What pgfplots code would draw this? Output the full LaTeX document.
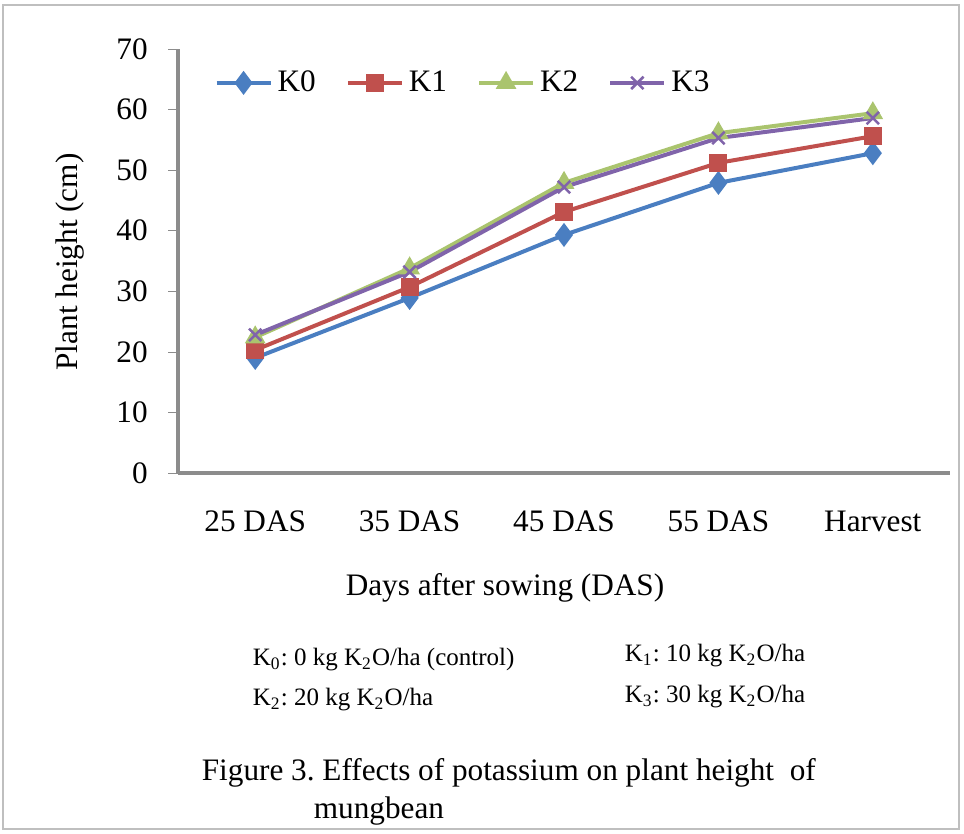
\documentclass[border=0pt]{standalone}
\usepackage{pgfplots}
\pgfplotsset{compat=1.18}
\usepackage{fontspec}
\setmainfont{Liberation Serif}
\frenchspacing
\definecolor{cK0}{RGB}{74,126,193}
\definecolor{cK1}{RGB}{192,80,77}
\definecolor{cK2}{RGB}{170,196,110}
\definecolor{cK3}{RGB}{128,100,170}
\definecolor{axgray}{RGB}{140,140,140}
\begin{document}
\begin{tikzpicture}[x=0.4pt,y=0.4pt]
\path[use as bounding box] (0,0) rectangle (964,833);
\draw[gray!50, line width=0.8pt] (3,4) rectangle (959,828);
\begin{axis}[
  at={(71.2pt,144pt)}, anchor=south west,
  scale only axis, width=308.8pt, height=169.6pt,
  xmin=-0.5, xmax=4.5, ymin=0, ymax=70,
  ytick={0,10,...,70},
  xtick={0,1,2,3,4},
  xticklabels={25 DAS,35 DAS,45 DAS,55 DAS,Harvest},
  extra x ticks={-0.5,0.5,1.5,2.5,3.5,4.5},
  extra x tick labels={},
  extra x tick style={major tick length=6pt, tick style={axgray}},
  axis x line*=bottom, axis y line*=left,
  axis line style={axgray,-}, 
  x tick style={draw=none},
  y tick style={axgray}, tick align=outside, major tick length=4pt,
  /pgf/number format/assume math mode=true,
  ticklabel style={font=\fontsize{12.5}{14}\selectfont},
  xticklabel style={yshift=-7pt},
  yticklabel style={xshift=-4pt},
  legend style={at={(0.035,0.92)}, anchor=west, draw=none, fill=none,
    font=\fontsize{12.5}{14}\selectfont,
    /tikz/every even column/.append style={column sep=10pt}},
  legend columns=4,
  legend image code/.code={\draw[mark repeat=2,mark phase=2] plot coordinates {(0cm,0cm) (0.38cm,0cm) (0.76cm,0cm)};},
  legend image post style={sharp plot},
  line width=1.6pt,
  clip=false,
]
\addplot[cK0, mark=diamond*, mark size=3.5pt, mark options={solid}] coordinates {(0,19.0) (1,28.9) (2,39.3) (3,47.9) (4,52.8)};
\addplot[cK1, mark=square*, mark size=2.8pt] coordinates {(0,20.3) (1,30.7) (2,43.1) (3,51.2) (4,55.6)};
\addplot[cK2, mark=triangle*, mark size=3.2pt] coordinates {(0,22.4) (1,33.8) (2,47.9) (3,56.1) (4,59.4)};
\addplot[cK3, mark=x, mark size=3.5pt, mark options={line width=1pt}] coordinates {(0,22.8) (1,33.2) (2,47.2) (3,55.3) (4,58.6)};
\legend{K0,K1,K2,K3}
\end{axis}
\node[rotate=90, font=\fontsize{12.5}{14}\selectfont] at (70,571) {Plant height (cm)};
\node[font=\fontsize{12.5}{14}\selectfont] at (505,245) {Days after sowing (DAS)};
\node[anchor=west, font=\fontsize{10}{12}\selectfont] at (244,173) {K\textsubscript{0}: 0 kg K\textsubscript{2}O/ha (control)};
\node[anchor=west, font=\fontsize{10}{12}\selectfont] at (616,177) {K\textsubscript{1}: 10 kg K\textsubscript{2}O/ha};
\node[anchor=west, font=\fontsize{10}{12}\selectfont] at (244,133) {K\textsubscript{2}: 20 kg K\textsubscript{2}O/ha};
\node[anchor=west, font=\fontsize{10}{12}\selectfont] at (616,136) {K\textsubscript{3}: 30 kg K\textsubscript{2}O/ha};
\node[anchor=west, font=\fontsize{12.5}{14}\selectfont] at (193,60) {Figure 3. Effects of potassium on plant height\ \ of};
\node[anchor=west, font=\fontsize{12.5}{14}\selectfont] at (305,22) {mungbean};
\end{tikzpicture}
\end{document}
